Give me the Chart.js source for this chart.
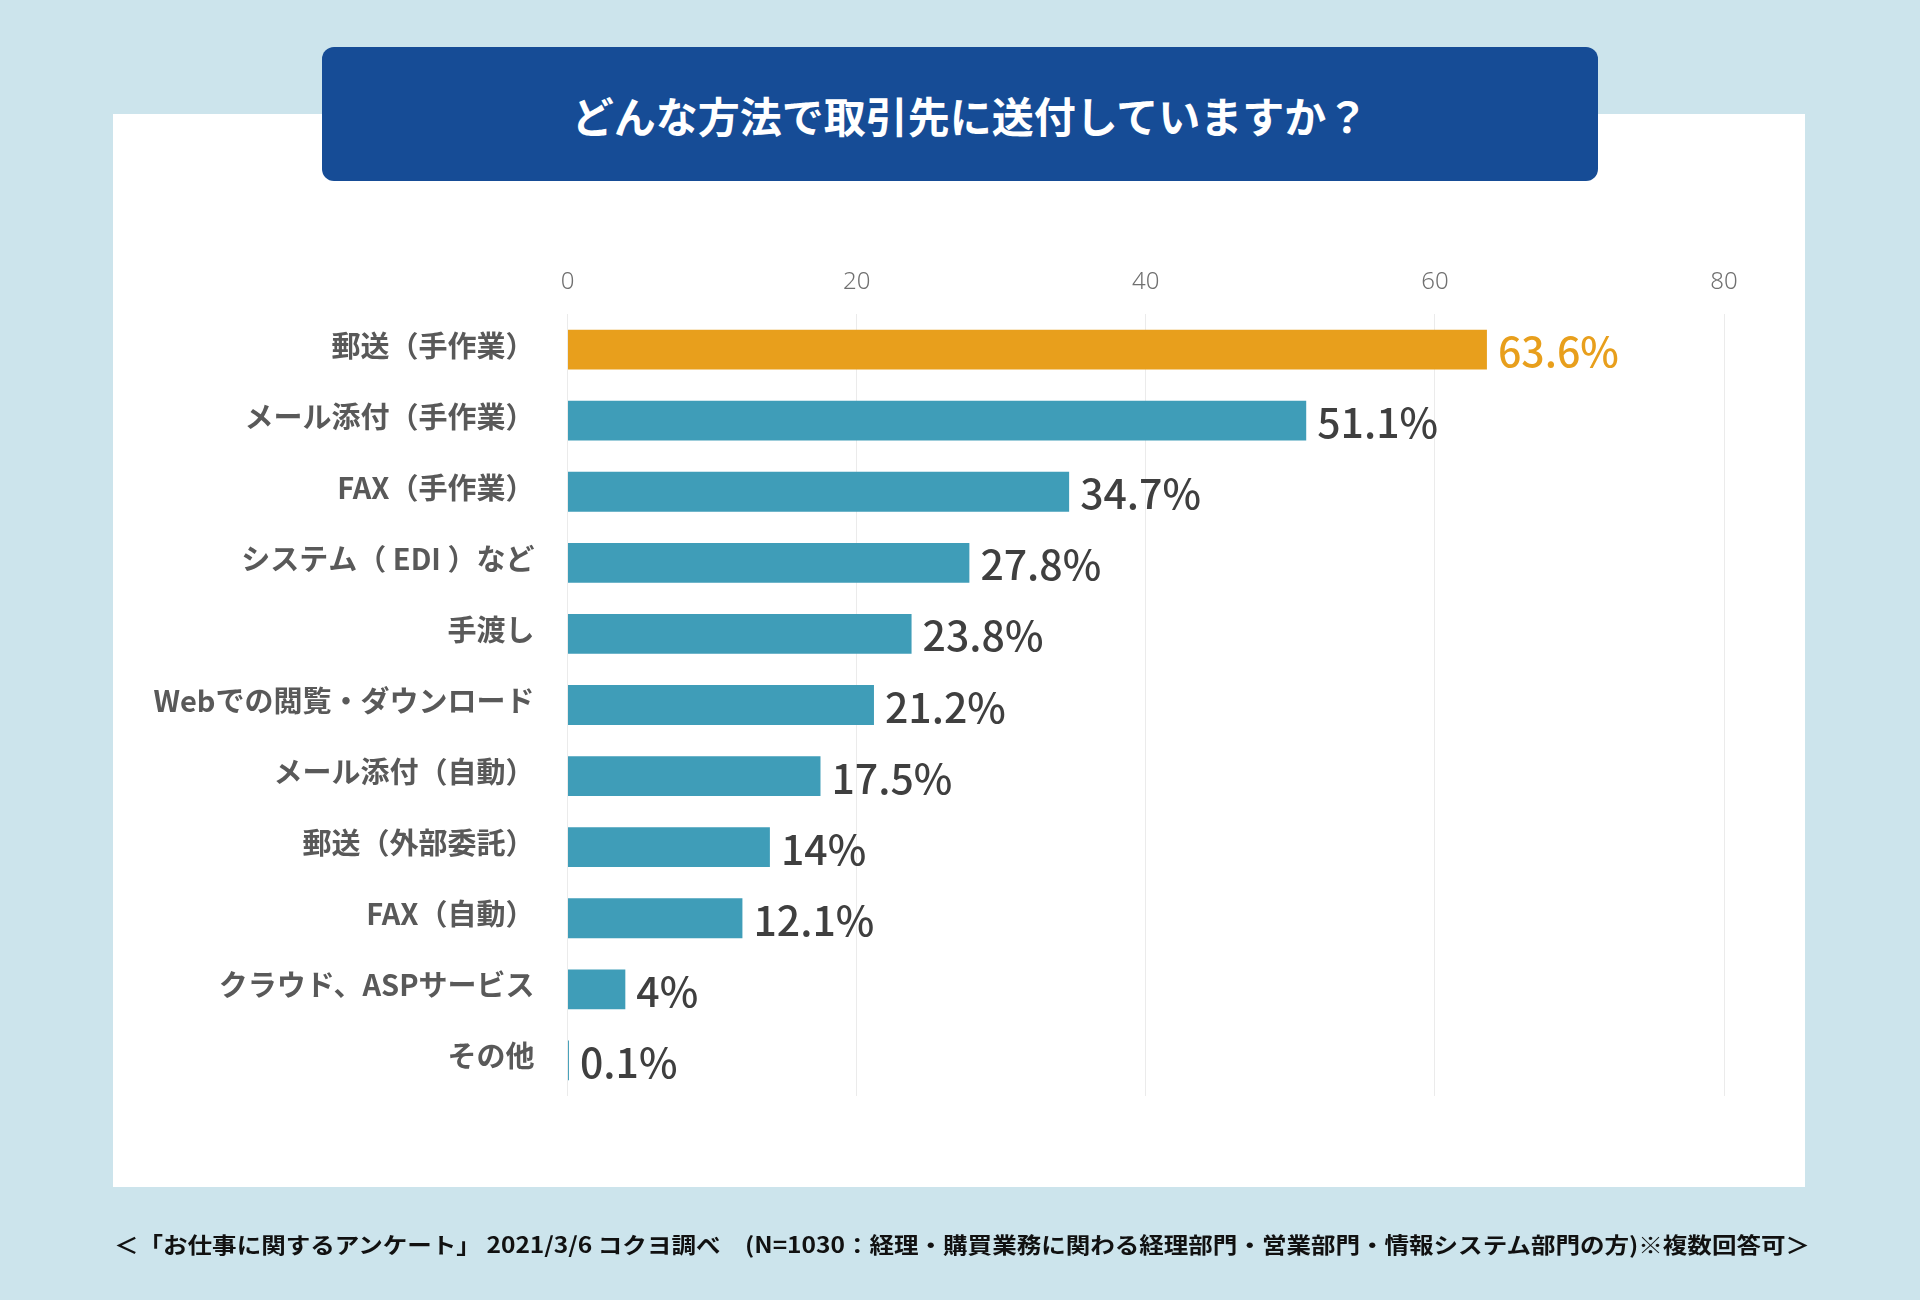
<!DOCTYPE html>
<html lang="ja">
<head>
<meta charset="utf-8">
<title>どんな方法で取引先に送付していますか？</title>
<script src="https://cdn.jsdelivr.net/npm/chart.js@4.4.1/dist/chart.umd.min.js"></script>
<style>
  body {
    margin: 0;
    width: 1920px;
    height: 1300px;
    background: #cce4ec;
    position: relative;
    overflow: hidden;
    font-family: "Noto Sans CJK JP", sans-serif;
  }
  #panel {
    position: absolute;
    left: 113px;
    top: 114px;
    width: 1692px;
    height: 1073px;
    background: #fff;
  }
  #wrap {
    position: absolute;
    left: 0;
    top: 0;
    width: 1920px;
    height: 1300px;
  }
  #title {
    position: absolute;
    left: 322px;
    top: 47px;
    width: 1256px;
    padding-left: 20px;
    height: 134px;
    background: #164c96;
    border-radius: 12px;
    color: #fff;
    font-weight: 700;
    font-size: 42px;
    display: flex;
    align-items: center;
    justify-content: center;
  }
  #note {
    position: absolute;
    left: 114px;
    top: 1229px;
    font-size: 22px;
    line-height: 28px;
    font-weight: 700;
    color: #111;
    white-space: nowrap;
    transform-origin: left center;
  }
</style>
</head>
<body>
<div id="panel"></div>
<div id="wrap"><canvas id="chart"></canvas></div>
<div id="title">どんな方法で取引先に送付していますか？</div>
<div id="note">＜「お仕事に関するアンケート」 2021/3/6 コクヨ調べ　(N=1030：経理・購買業務に関わる経理部門・営業部門・情報システム部門の方)※複数回答可＞</div>

<script>
// data (%)
const categories = [
  '郵送（手作業）',
  'メール添付（手作業）',
  'FAX（手作業）',
  'システム（ EDI ）など',
  '手渡し',
  'Webでの閲覧・ダウンロード',
  'メール添付（自動）',
  '郵送（外部委託）',
  'FAX（自動）',
  'クラウド、ASPサービス',
  'その他'
]
const values = [63.6, 51.1, 34.7, 27.8, 23.8, 21.2, 17.5, 14, 12.1, 4, 0.1]
const xTicks = [0, 20, 40, 60, 80]

const highlightIndex = 0
const orange = '#e89f1c'
const teal = '#3f9db8'

// percent labels at the end of each bar
const valueLabels = {
  id: 'valueLabels',
  afterDatasetsDraw(chart) {
    const ctx = chart.ctx
    const meta = chart.getDatasetMeta(0)
    ctx.save()
    ctx.font = '500 41px "Noto Sans CJK JP"'
    ctx.textBaseline = 'middle'
    ctx.textAlign = 'left'
    meta.data.forEach(function (bar, i) {
      ctx.fillStyle = i === highlightIndex ? orange : '#3f3f3f'
      ctx.fillText(values[i] + '%', bar.x + 11, bar.y + 2)
    })
    ctx.restore()
  }
}

new Chart(document.getElementById('chart'), {
  type: 'bar',
  data: {
    labels: categories,
    datasets: [{
      data: values,
      backgroundColor: categories.map(function (c, i) { return i === highlightIndex ? orange : teal }),
      barPercentage: 0.56,
      categoryPercentage: 1
    }]
  },
  options: {
    indexAxis: 'y',
    responsive: true,
    maintainAspectRatio: false,
    animation: false,
    layout: {
      padding: { left: 0, right: 196, top: 264, bottom: 204 }
    },
    plugins: {
      legend: { display: false },
      tooltip: { enabled: false }
    },
    scales: {
      x: {
        position: 'top',
        min: xTicks[0],
        max: xTicks[xTicks.length - 1],
        afterBuildTicks: function (s) { s.ticks = xTicks.map(function (v) { return { value: v } }) },
        afterFit: function (s) { s.height = 50 },
        ticks: {
          color: '#707070',
          padding: 17,
          font: { family: 'Noto Sans', size: 24, weight: 300 }
        },
        grid: { color: '#ebebeb', lineWidth: 1, drawTicks: false },
        border: { display: false }
      },
      y: {
        afterFit: function (s) { s.width = 567.5 },
        ticks: {
          color: '#595959',
          padding: 25,
          labelOffset: -4,
          font: { family: 'Noto Sans CJK JP', size: 29, weight: 700 }
        },
        grid: { display: false },
        border: { display: false }
      }
    }
  },
  plugins: [valueLabels]
})

// stretch the source note to the panel width
var note = document.getElementById('note')
var w = note.getBoundingClientRect().width
note.style.transform = 'scaleX(' + (1696 / w) + ')'
</script>
</body>
</html>
